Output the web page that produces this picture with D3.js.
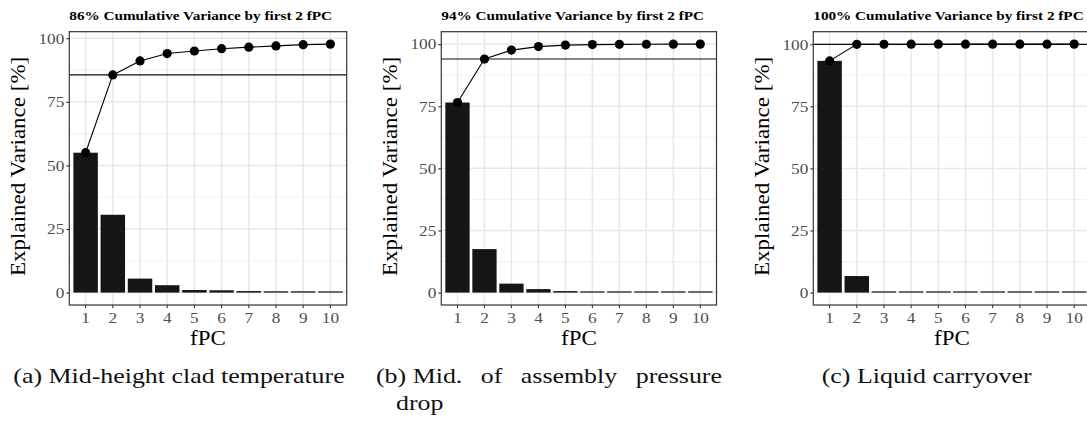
<!DOCTYPE html>
<html>
<head>
<meta charset="utf-8">
<script src="https://cdn.jsdelivr.net/npm/d3@7"></script>
<style>
  body { margin: 0; background: #fff; }
  svg { display: block; }
</style>
</head>
<body>
<svg id="fig" width="1087" height="424"></svg>
<script>
// Explained variance (%) of the first ten functional principal components
const components = ["1", "2", "3", "4", "5", "6", "7", "8", "9", "10"];
const varCladTemp = [55.0, 30.6, 5.5, 2.9, 1.0, 0.9, 0.6, 0.5, 0.5, 0.2];
const varPressureDrop = [76.5, 17.5, 3.6, 1.4, 0.6, 0.2, 0.1, 0.05, 0.03, 0.02];
const varCarryover = [93.3, 6.65, 0.04, 0.02, 0.01, 0.01, 0.01, 0.005, 0.003, 0.002];
const yTickValues = [0, 25, 50, 75, 100];
const yMinorValues = [12.5, 37.5, 62.5, 87.5];
const nRetained = 2;
const captionA = "(a) Mid-height clad temperature";
const captionBLabel = "(b)";
const captionBLine1 = ["Mid.", "of", "assembly", "pressure"];
const captionBLine2 = "drop";
const captionC = "(c) Liquid carryover";

const SERIF = '"Liberation Serif", "Tinos", "Times New Roman", "Nimbus Roman", "DejaVu Serif", serif';

const svg = d3.select("#fig");

const panels = [
  { values: varCladTemp,     left: 69.3,  right: 346.7 },
  { values: varPressureDrop, left: 441.3, right: 716.5 },
  { values: varCarryover,    left: 813.3, right: 1090.5 }
];
const panelTop = 31.7, panelBottom = 305;

const K_PLOT = 1.15;   // horizontal stretch of plot lettering

function stretchAbout(sel, k) {
  sel.each(function () {
    const t = d3.select(this);
    const x = +t.attr("x") || 0, y = +t.attr("y") || 0;
    t.attr("transform", `translate(${x},${y}) scale(${k},1) translate(${-x},${-y})`);
  });
}

let titleK = null;

panels.forEach((p, pi) => {
  const cum = Array.from(d3.cumsum(p.values));
  const maxV = d3.max(cum);
  const y = d3.scaleLinear()
    .domain([-0.05 * maxV, 1.05 * maxV])
    .range([panelBottom, panelTop]);
  const x = d3.scaleBand()
    .domain(components)
    .range([p.left, p.right])
    .paddingInner(0.1)
    .paddingOuter(0.15);
  const xc = d => x(d) + x.bandwidth() / 2;

  const g = svg.append("g");

  // grid
  g.selectAll(".minor").data(yMinorValues.filter(v => y(v) > panelTop)).join("line")
    .attr("x1", p.left).attr("x2", p.right)
    .attr("y1", d => y(d)).attr("y2", d => y(d))
    .attr("stroke", "#efefef").attr("stroke-width", 0.9);
  g.selectAll(".major").data(yTickValues).join("line")
    .attr("x1", p.left).attr("x2", p.right)
    .attr("y1", d => y(d)).attr("y2", d => y(d))
    .attr("stroke", "#e8e8e8").attr("stroke-width", 1.5);
  g.selectAll(".xgrid").data(components).join("line")
    .attr("x1", d => xc(d)).attr("x2", d => xc(d))
    .attr("y1", panelTop).attr("y2", panelBottom)
    .attr("stroke", "#e8e8e8").attr("stroke-width", 1.5);

  // bars (a hairline stays visible for near-zero shares)
  g.selectAll(".bar").data(p.values).join("rect")
    .attr("x", (d, i) => x(components[i]))
    .attr("width", x.bandwidth())
    .attr("y", d => Math.min(y(d), y(0) - 1.2))
    .attr("height", d => Math.max(1.2, y(0) - y(d)))
    .attr("fill", "#151515");

  // threshold line at cumulative variance of retained components
  g.append("line")
    .attr("x1", p.left).attr("x2", p.right)
    .attr("y1", y(cum[nRetained - 1])).attr("y2", y(cum[nRetained - 1]))
    .attr("stroke", "#111").attr("stroke-width", 1.1);

  // cumulative curve
  const line = d3.line().x((d, i) => xc(components[i])).y(d => y(d));
  g.append("path").datum(cum)
    .attr("d", line).attr("fill", "none")
    .attr("stroke", "#000").attr("stroke-width", 1.1);
  g.selectAll(".pt").data(cum).join("circle")
    .attr("cx", (d, i) => xc(components[i]))
    .attr("cy", d => y(d))
    .attr("r", 4.6).attr("fill", "#000");

  // panel border
  g.append("rect")
    .attr("x", p.left).attr("y", panelTop)
    .attr("width", p.right - p.left).attr("height", panelBottom - panelTop)
    .attr("fill", "none").attr("stroke", "#333").attr("stroke-width", 1.2);

  // axes
  const ya = g.append("g").attr("transform", `translate(${p.left},0)`)
    .call(d3.axisLeft(y).tickValues(yTickValues).tickSize(3).tickPadding(2));
  const xa = g.append("g").attr("transform", `translate(0,${panelBottom})`)
    .call(d3.axisBottom(x).tickSize(3).tickPadding(4.5));
  [ya, xa].forEach(a => {
    a.attr("font-family", null);
    a.select(".domain").remove();
    a.selectAll(".tick line").attr("stroke", "#333").attr("stroke-width", 1.1);
    a.selectAll(".tick text")
      .attr("fill", "#4d4d4d")
      .style("font-size", "15px")
      .style("font-family", SERIF);
    stretchAbout(a.selectAll(".tick text"), K_PLOT);
  });

  // axis titles
  const cy = (panelTop + panelBottom) / 2 - 2;
  g.append("text")
    .attr("transform", `translate(${p.left - 44},${cy}) rotate(-90) scale(${K_PLOT},1)`)
    .attr("text-anchor", "middle")
    .style("font-family", SERIF)
    .style("font-size", "20px").attr("fill", "#000")
    .text("Explained Variance [%]");
  g.append("text")
    .attr("transform", `translate(${(p.left + p.right) / 2},${344.5}) scale(${K_PLOT},1)`)
    .attr("text-anchor", "middle")
    .style("font-family", SERIF)
    .style("font-size", "20px").attr("fill", "#000")
    .text("fPC");

  // title
  const title = g.append("text")
    .attr("x", p.left).attr("y", 20)
    .style("font-family", SERIF)
    .style("font-size", "13px").style("font-weight", "bold").attr("fill", "#000")
    .text(`${Math.round(cum[nRetained - 1])}% Cumulative Variance by first ${nRetained} fPC`);
  if (titleK === null) titleK = 263 / title.node().getComputedTextLength();
  stretchAbout(title, titleK);
});

// sub-figure captions
const capSize = 20;
const capBase = 383.5;
function capText(str, xPos, yPos, anchor) {
  return svg.append("text")
    .attr("x", xPos).attr("y", yPos)
    .attr("text-anchor", anchor || "start")
    .style("font-family", SERIF)
    .style("font-size", capSize + "px").attr("fill", "#111")
    .text(str);
}
const probe = capText(captionC, 0, -50);
const capK = 210 / probe.node().getComputedTextLength();
probe.remove();

stretchAbout(capText(captionA, 179, capBase, "middle"), capK);
stretchAbout(capText(captionC, 926.7, capBase, "middle"), capK);

// caption (b): label, then a justified first line; second line indented
const bLeft = 376, bRight = 722;
const lbl = capText(captionBLabel, bLeft, capBase);
const bodyLeft = bLeft + lbl.node().getComputedTextLength() * capK + 0.25 * capSize * capK;
stretchAbout(lbl, capK);
const words = captionBLine1.map(w => {
  const t = capText(w, 0, capBase);
  return { t, w: t.node().getComputedTextLength() * capK };
});
const gap = (bRight - bodyLeft - d3.sum(words, d => d.w)) / (words.length - 1);
let cursor = bodyLeft;
words.forEach(d => {
  d.t.attr("x", cursor);
  stretchAbout(d.t, capK);
  cursor += d.w + gap;
});
stretchAbout(capText(captionBLine2, bLeft + 20, capBase + 27), capK);
</script>
</body>
</html>
